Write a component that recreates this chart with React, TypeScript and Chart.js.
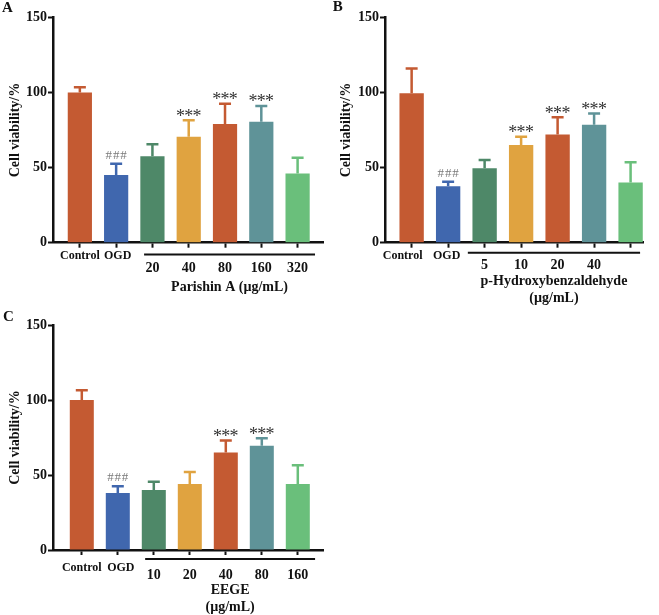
import React, { useEffect, useRef } from "react";
import { Chart, registerables } from "chart.js";

Chart.register(...registerables);

const SERIF = "'Liberation Serif', 'Times New Roman', serif";

const RED = "#C45A32";
const BLUE = "#4067AE";
const GREEN = "#4E8868";
const ORANGE = "#E0A340";
const TEAL = "#5F9398";
const LGREEN = "#6ABF7B";
const barColors = [RED, BLUE, GREEN, ORANGE, RED, TEAL, LGREEN];

const yTicks = [0, 50, 100, 150];
const yTitle = "Cell viability/%";

// Panel A — Parishin A
const labelsA = ["Control", "OGD", "20", "40", "80", "160", "320"];
const meansA = [100, 45, 57.5, 70.5, 79, 80.5, 46];
const sdA = [3.5, 7.5, 8, 11, 13.5, 10.5, 10.5];
const marksA = ["", "###", "", "***", "***", "***", ""];
const titleA = ["Parishin A (µg/mL)"];

// Panel B — p-Hydroxybenzaldehyde
const labelsB = ["Control", "OGD", "5", "10", "20", "40", ""];
const meansB = [99.5, 37.5, 49.5, 65, 72, 78.5, 40];
const sdB = [16.5, 3, 5.5, 5.5, 11.5, 7.5, 13.5];
const marksB = ["", "###", "", "***", "***", "***", ""];
const titleB = ["p-Hydroxybenzaldehyde", "(µg/mL)"];

// Panel C — EEGE
const labelsC = ["Control", "OGD", "10", "20", "40", "80", "160"];
const meansC = [100, 38, 40, 44, 65, 69.5, 44];
const sdC = [6.5, 4.5, 5.5, 8, 8, 5, 12.5];
const marksC = ["", "###", "", "", "***", "***", ""];
const titleC = ["EEGE", "(µg/mL)"];

type Panel = {
  letter: string;
  labels: string[];
  means: number[];
  sd: number[];
  marks: string[];
  title: string[];
  left: number;
  top: number;
  width: number;
  height: number;
  pad: { left: number; right: number; top: number; bottom: number };
  yWidth: number;
  xMin: number;
  xMax: number;
  letterPos: [number, number];
  groupDy: number;
  groupDx: number[];
  numDy: number;
  titleDy: number[];
  lineDy: number;
  lineFrom: number;
  lineTo: number;
};

const panels: Panel[] = [
  {
    letter: "A",
    labels: labelsA,
    means: meansA,
    sd: sdA,
    marks: marksA,
    title: titleA,
    left: 0,
    top: 0,
    width: 330,
    height: 300,
    pad: { left: 6.6, right: 7, top: 17.3, bottom: 52.3 },
    yWidth: 46.4,
    xMin: -0.74,
    xMax: 6.7,
    letterPos: [2, 8],
    groupDy: 13.3,
    groupDx: [0, 1.5],
    numDy: 26,
    titleDy: [44.5],
    lineDy: 11.8,
    lineFrom: 1.77,
    lineTo: 6.48,
  },
  {
    letter: "B",
    labels: labelsB,
    means: meansB,
    sd: sdB,
    marks: marksB,
    title: titleB,
    left: 330,
    top: 0,
    width: 329,
    height: 312,
    pad: { left: 8.3, right: 16, top: 17.3, bottom: 64.3 },
    yWidth: 46.7,
    xMin: -0.73,
    xMax: 6.34,
    letterPos: [2.7, 7],
    groupDy: 13.3,
    groupDx: [-9, -1.5],
    numDy: 23,
    titleDy: [39, 56],
    lineDy: 10,
    lineFrom: 1.54,
    lineTo: 6.26,
  },
  {
    letter: "C",
    labels: labelsC,
    means: meansC,
    sd: sdC,
    marks: marksC,
    title: titleC,
    left: 0,
    top: 300,
    width: 330,
    height: 315,
    pad: { left: 6.6, right: 7, top: 25, bottom: 60 },
    yWidth: 46.4,
    xMin: -0.8,
    xMax: 6.7,
    letterPos: [3, 17],
    groupDy: 18,
    groupDx: [0, 3],
    numDy: 25,
    titleDy: [40, 57.5],
    lineDy: 9,
    lineFrom: 1.76,
    lineTo: 6.48,
  },
];

function makePlugin(p: Panel) {
  return {
    id: "decor" + p.letter,
    afterDatasetsDraw(chart: any) {
      const ctx = chart.ctx;
      const xs = chart.scales.x;
      const ys = chart.scales.y;
      ctx.save();
      p.means.forEach((m, i) => {
        const x = xs.getPixelForValue(i);
        const y1 = ys.getPixelForValue(m);
        const y2 = ys.getPixelForValue(m + p.sd[i]);
        ctx.strokeStyle = barColors[i];
        ctx.lineWidth = 2.5;
        ctx.lineCap = "butt";
        ctx.beginPath();
        ctx.moveTo(x, y1);
        ctx.lineTo(x, y2);
        ctx.moveTo(x - 6, y2);
        ctx.lineTo(x + 6, y2);
        ctx.stroke();
        const mk = p.marks[i];
        if (mk) {
          const star = mk[0] === "*";
          const size = star ? 18 : 13;
          ctx.fillStyle = star ? "#333333" : "#7a7a7a";
          ctx.font = `${size}px ${SERIF}`;
          ctx.textAlign = "center";
          ctx.textBaseline = "alphabetic";
          const step = star ? 8.3 : 7.3;
          const cy = y2 - (star ? 7.5 : 9.5);
          const base = cy + (star ? 0.5 * size : 0.34 * size);
          for (let k = 0; k < mk.length; k++) {
            ctx.fillText(mk[k], x + (k - (mk.length - 1) / 2) * step, base);
          }
        }
      });
      ctx.restore();
    },
    afterDraw(chart: any) {
      const ctx = chart.ctx;
      const xs = chart.scales.x;
      const y0 = chart.chartArea.bottom;
      ctx.save();
      ctx.fillStyle = "#111";
      ctx.textAlign = "center";
      ctx.textBaseline = "middle";
      p.labels.forEach((lab, i) => {
        if (!lab) return;
        const x = xs.getPixelForValue(i);
        if (i < 2) {
          ctx.font = `bold 12px ${SERIF}`;
          ctx.fillText(lab, x + p.groupDx[i], y0 + p.groupDy);
        } else {
          ctx.font = `bold 14px ${SERIF}`;
          ctx.fillText(lab, x, y0 + p.numDy);
        }
      });
      // group underline
      const lx1 = xs.getPixelForValue(p.lineFrom);
      const lx2 = xs.getPixelForValue(p.lineTo);
      ctx.strokeStyle = "#111";
      ctx.lineWidth = 2;
      ctx.beginPath();
      ctx.moveTo(lx1, y0 + p.lineDy);
      ctx.lineTo(lx2, y0 + p.lineDy);
      ctx.stroke();
      // group title
      ctx.font = `bold 14px ${SERIF}`;
      const cx = (lx1 + lx2) / 2;
      p.title.forEach((t, k) => ctx.fillText(t, cx, y0 + p.titleDy[k]));
      // panel letter
      ctx.textAlign = "left";
      ctx.font = `bold 15px ${SERIF}`;
      ctx.fillText(p.letter, p.letterPos[0], p.letterPos[1]);
      ctx.restore();
    },
  };
}

function PanelChart({ p }: { p: Panel }) {
  const ref = useRef<HTMLCanvasElement | null>(null);
  useEffect(() => {
    if (!ref.current) return;
    const chart = new Chart(ref.current, {
      type: "bar",
      data: {
        datasets: [
          {
            data: p.means.map((v, i) => ({ x: i, y: v })),
            backgroundColor: barColors,
            borderWidth: 0,
            barPercentage: 0.667,
            categoryPercentage: 1,
          },
        ],
      },
      options: {
        responsive: false,
        animation: false,
        events: [],
        layout: { padding: p.pad },
        plugins: { legend: { display: false }, tooltip: { enabled: false } },
        scales: {
          x: {
            type: "linear",
            min: p.xMin,
            max: p.xMax,
            offset: false,
            grid: {
              offset: false,
              drawOnChartArea: false,
              drawTicks: true,
              tickLength: 5,
              tickWidth: 2,
              tickColor: "#111",
              color: "#111",
            },
            border: { display: true, color: "#111", width: 2.5 },
            ticks: { display: false, stepSize: 1, includeBounds: false },
            afterFit: (s: any) => {
              s.height = 5;
            },
          },
          y: {
            type: "linear",
            min: 0,
            max: 150,
            grid: {
              drawOnChartArea: false,
              drawTicks: true,
              tickLength: 5,
              tickWidth: 2,
              tickColor: "#111",
              color: "#111",
            },
            border: { display: true, color: "#111", width: 2.5 },
            afterBuildTicks: (s: any) => {
              s.ticks = yTicks.map((v) => ({ value: v }));
            },
            ticks: {
              padding: 1,
              color: "#111",
              font: { family: SERIF, size: 14, weight: "bold" },
            },
            title: {
              display: true,
              text: yTitle,
              color: "#111",
              padding: 0,
              font: { family: SERIF, size: 14, weight: "bold" },
            },
            afterFit: (s: any) => {
              s.width = p.yWidth;
            },
          },
        },
      },
      plugins: [makePlugin(p)],
    } as any);
    return () => chart.destroy();
  }, [p]);
  return (
    <canvas
      ref={ref}
      width={p.width}
      height={p.height}
      style={{
        position: "absolute",
        left: p.left,
        top: p.top,
        width: p.width,
        height: p.height,
      }}
    />
  );
}

export default function App() {
  return (
    <div
      style={{
        position: "fixed",
        left: 0,
        top: 0,
        width: 659,
        height: 615,
        background: "#fff",
      }}
    >
      {panels.map((p) => (
        <PanelChart key={p.letter} p={p} />
      ))}
    </div>
  );
}
